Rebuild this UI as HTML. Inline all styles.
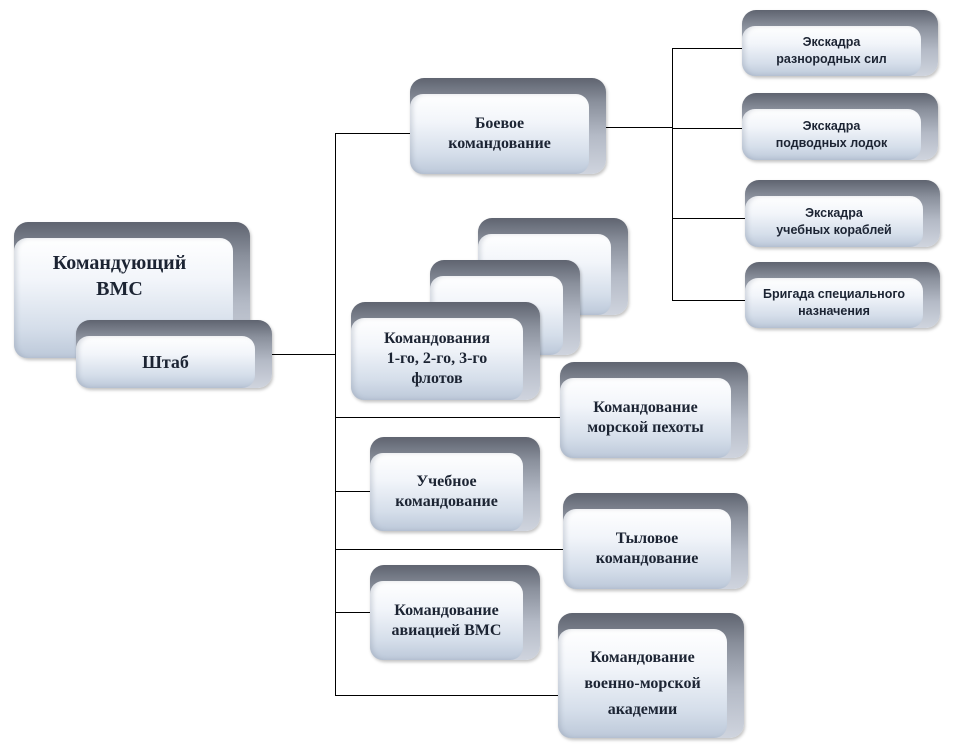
<!DOCTYPE html>
<html><head><meta charset="utf-8"><style>
body{margin:0;width:960px;height:755px;background:#fff;position:relative;overflow:hidden}
.b{position:absolute}
.bk{position:absolute;left:0;top:0;right:0;bottom:0;border-radius:14px;background:linear-gradient(180deg,#5f6470 0%,#8a909c 25%,#b4bac6 60%,#cfd4de 100%);box-shadow:1px 2px 3px rgba(0,0,0,.25)}
.fr{position:absolute;left:0;bottom:0;right:17px;top:16px;border-radius:13px;background:linear-gradient(180deg,#ffffff 0%,#f2f5fa 35%,#d5deea 75%,#bcc8d9 100%);box-shadow:inset 3px 0 4px rgba(120,130,150,.25);display:flex;align-items:center;justify-content:center;text-align:center;font-family:"Liberation Serif",serif;font-weight:bold;color:#1c2433;font-size:16px;line-height:20px}
.s .fr{font-family:"Liberation Sans",sans-serif;font-size:12.5px;line-height:17px;color:#1c2433}
.l{position:absolute;background:#000}
</style></head><body>
<div class="l" style="left:272px;top:354px;width:64px;height:1px"></div>
<div class="l" style="left:335px;top:133px;width:1px;height:563px"></div>
<div class="l" style="left:335px;top:133px;width:76px;height:1px"></div>
<div class="l" style="left:335px;top:417px;width:226px;height:1px"></div>
<div class="l" style="left:335px;top:491px;width:36px;height:1px"></div>
<div class="l" style="left:335px;top:549px;width:229px;height:1px"></div>
<div class="l" style="left:335px;top:612px;width:36px;height:1px"></div>
<div class="l" style="left:335px;top:695px;width:224px;height:1px"></div>
<div class="l" style="left:606px;top:127px;width:67px;height:1px"></div>
<div class="l" style="left:672px;top:48px;width:1px;height:253px"></div>
<div class="l" style="left:672px;top:48px;width:71px;height:1px"></div>
<div class="l" style="left:672px;top:128px;width:71px;height:1px"></div>
<div class="l" style="left:672px;top:218px;width:74px;height:1px"></div>
<div class="l" style="left:672px;top:300px;width:74px;height:1px"></div>

<div class="b" style="left:14px;top:222px;width:236px;height:136px"><div class="bk"></div><div class="fr" style="align-items:flex-start;padding-top:12px;font-size:20px;line-height:26px;padding-right:8px;box-sizing:border-box">Командующий<br>ВМС</div></div>
<div class="b" style="left:76px;top:320px;width:196px;height:68px"><div class="bk"></div><div class="fr" style="font-size:18px">Штаб</div></div>

<div class="b" style="left:410px;top:78px;width:196px;height:96px"><div class="bk"></div><div class="fr">Боевое<br>командование</div></div>

<div class="b" style="left:478px;top:218px;width:150px;height:97px"><div class="bk"></div><div class="fr"></div></div>
<div class="b" style="left:430px;top:260px;width:150px;height:95px"><div class="bk"></div><div class="fr"></div></div>
<div class="b" style="left:351px;top:302px;width:189px;height:98px"><div class="bk"></div><div class="fr">Командования<br>1-го, 2-го, 3-го<br>флотов</div></div>

<div class="b s" style="left:742px;top:10px;width:196px;height:66px"><div class="bk"></div><div class="fr">Экскадра<br>разнородных сил</div></div>
<div class="b s" style="left:742px;top:93px;width:196px;height:67px"><div class="bk"></div><div class="fr">Экскадра<br>подводных лодок</div></div>
<div class="b s" style="left:745px;top:180px;width:195px;height:67px"><div class="bk"></div><div class="fr">Экскадра<br>учебных кораблей</div></div>
<div class="b s" style="left:745px;top:262px;width:195px;height:66px"><div class="bk"></div><div class="fr">Бригада специального<br>назначения</div></div>

<div class="b" style="left:560px;top:362px;width:188px;height:96px"><div class="bk"></div><div class="fr">Командование<br>морской пехоты</div></div>
<div class="b" style="left:370px;top:437px;width:170px;height:94px"><div class="bk"></div><div class="fr">Учебное<br>командование</div></div>
<div class="b" style="left:563px;top:493px;width:185px;height:96px"><div class="bk"></div><div class="fr">Тыловое<br>командование</div></div>
<div class="b" style="left:370px;top:565px;width:170px;height:95px"><div class="bk"></div><div class="fr">Командование<br>авиацией ВМС</div></div>
<div class="b" style="left:558px;top:613px;width:186px;height:125px"><div class="bk"></div><div class="fr" style="line-height:26px">Командование<br>военно-морской<br>академии</div></div>
</body></html>
